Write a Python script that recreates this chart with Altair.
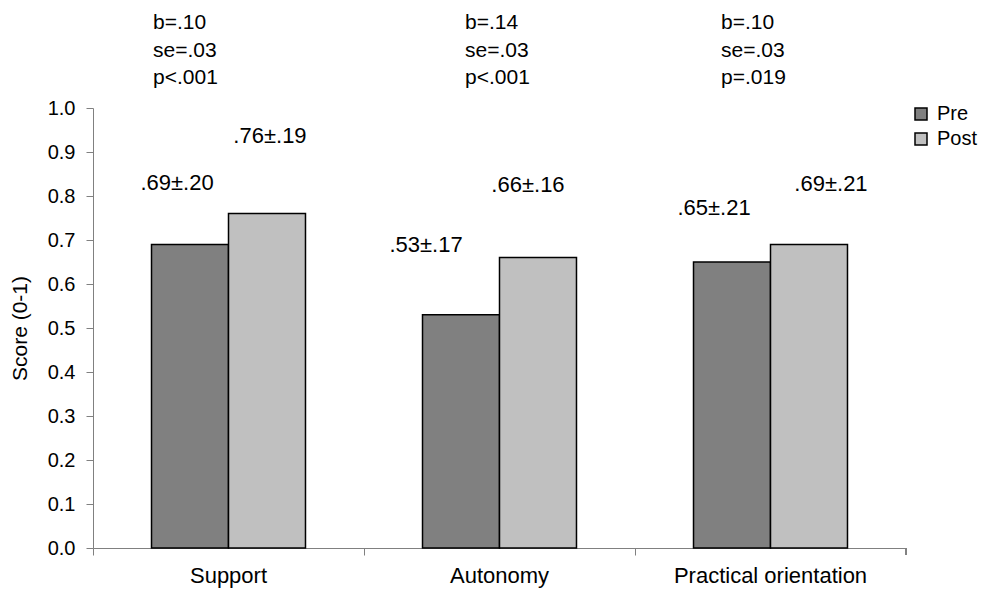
import altair as alt
import pandas as pd

categories = ["Support", "Autonomy", "Practical orientation"]
groups = ["Pre", "Post"]
pre_values = [0.69, 0.53, 0.65]
post_values = [0.76, 0.66, 0.69]
pre_labels = [".69±.20", ".53±.17", ".65±.21"]
post_labels = [".76±.19", ".66±.16", ".69±.21"]
b_texts = ["b=.10", "b=.14", "b=.10"]
se_texts = ["se=.03", "se=.03", "se=.03"]
p_texts = ["p<.001", "p<.001", "p=.019"]

# where the value labels sit (in score units) and their horizontal shift
pre_label_y = [0.83, 0.689, 0.773]
post_label_y = [0.936, 0.825, 0.827]
pre_label_dx = [-13, -35, -18]
post_label_dx = [3, -10, 22]
stat_dx = [60, 101, 86]

FONT = "Liberation Sans"

rows = []
for i, c in enumerate(categories):
    rows.append({"category": c, "group": "Pre", "value": pre_values[i],
                 "label": pre_labels[i], "label_y": pre_label_y[i], "idx": i})
    rows.append({"category": c, "group": "Post", "value": post_values[i],
                 "label": post_labels[i], "label_y": post_label_y[i], "idx": i})
df = pd.DataFrame(rows)

stats = pd.DataFrame({
    "category": categories,
    "txt": [f"{b}\n{s}\n{p}" for b, s, p in zip(b_texts, se_texts, p_texts)],
    "idx": list(range(3)),
})

x_scale = alt.Scale(domain=categories, paddingInner=0, paddingOuter=0)
x_axis = alt.Axis(title=None, labelFontSize=22, labelFont=FONT, labelColor="black",
                  domainColor="#808080", tickColor="#808080", tickSize=7,
                  bandPosition=0, labelPadding=10, labelAngle=0, labelLimit=0)
xoff = alt.XOffset("group:N", sort=groups,
                   scale=alt.Scale(domain=groups, paddingInner=0, paddingOuter=0.76))
y_scale = alt.Scale(domain=[0, 1], nice=False, zero=True)
y_axis = alt.Axis(values=[round(v * 0.1, 1) for v in range(11)], format=".1f",
                  title="Score (0-1)", grid=False, labelFontSize=20, labelFont=FONT,
                  labelColor="black", domainColor="#808080", tickColor="#808080",
                  tickSize=7, labelPadding=11, titleFont=FONT, titleFontSize=21,
                  titleFontWeight="normal", titleColor="black", titleX=-73, titleY=220,
                  titleBaseline="middle", titleAngle=270)

base = alt.Chart(df)

bars = base.mark_bar(stroke="black", strokeWidth=1.5).encode(
    x=alt.X("category:N", sort=categories, scale=x_scale, axis=x_axis),
    xOffset=xoff,
    y=alt.Y("value:Q", scale=y_scale, axis=y_axis),
    color=alt.Color("group:N", sort=groups,
                    scale=alt.Scale(domain=groups, range=["#808080", "#C0C0C0"]),
                    legend=alt.Legend(title=None, orient="none", legendX=818, legendY=-4,
                                      symbolType="square", symbolSize=144,
                                      symbolStrokeColor="black", symbolStrokeWidth=1.5,
                                      labelFontSize=20, labelFont=FONT, labelColor="black",
                                      rowPadding=5, labelOffset=6)),
)

layers = [bars]
for i in range(3):
    for g, dxs in (("Pre", pre_label_dx), ("Post", post_label_dx)):
        layers.append(
            base.transform_filter((alt.datum.idx == i) & (alt.datum.group == g))
            .mark_text(font=FONT, fontSize=22, color="black", baseline="middle",
                       align="center", dx=dxs[i])
            .encode(x=alt.X("category:N", sort=categories, scale=x_scale),
                    xOffset=xoff,
                    y=alt.Y("label_y:Q", scale=y_scale),
                    text="label:N")
        )
    layers.append(
        alt.Chart(stats).transform_filter(alt.datum.idx == i)
        .mark_text(font=FONT, fontSize=21, color="black", baseline="alphabetic",
                   align="left", dx=stat_dx[i], lineBreak="\n", lineHeight=27.5)
        .encode(x=alt.X("category:N", sort=categories, scale=x_scale, bandPosition=0),
                y=alt.value(-79),
                text="txt:N")
    )

end_tick = alt.Chart(df).mark_rule(color="#808080").encode(
    x=alt.value(813), y=alt.value(440), y2=alt.value(447))
layers.append(end_tick)

chart = alt.layer(*layers).properties(
    width=813, height=440,
    padding={"left": 85, "top": 100, "right": 72, "bottom": 41},
    autosize=alt.AutoSizeParams(type="none"),
    background="white",
).configure_view(stroke=None)

chart.save("out.html", embed_options={"renderer": "svg", "actions": False})
